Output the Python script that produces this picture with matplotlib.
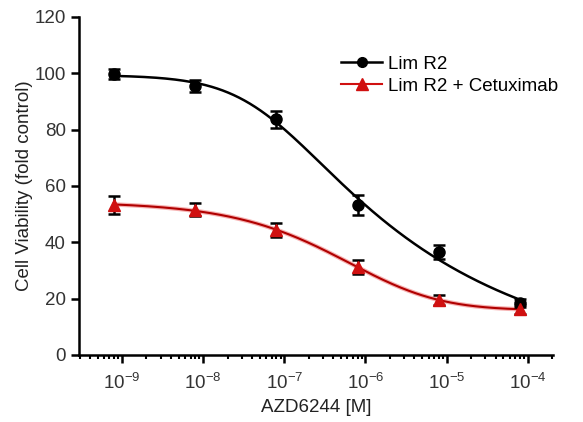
import numpy as np
import matplotlib
matplotlib.use('Agg')
import matplotlib.pyplot as plt
from matplotlib.ticker import LogLocator, FixedLocator

plt.rcParams['font.family'] = ['Liberation Sans', 'DejaVu Sans']
plt.rcParams['mathtext.fontset'] = 'custom'
plt.rcParams['mathtext.rm'] = 'Liberation Sans'
plt.rcParams['mathtext.it'] = 'Liberation Sans'

# AZD6244 concentrations [M]
conc = [8e-10, 8e-9, 8e-8, 8e-7, 8e-6, 8e-5]

# Lim R2
lim_mean = [99.8, 95.5, 83.6, 53.2, 36.6, 18.4]
lim_err = [1.8, 2.2, 3.0, 3.5, 2.5, 1.5]

# Lim R2 + Cetuximab
cet_mean = [53.2, 51.5, 44.2, 31.2, 19.5, 16.2]
cet_err = [3.3, 2.3, 2.5, 2.5, 1.8, 1.6]

series_names = ['Lim R2', 'Lim R2 + Cetuximab']


def fit_5pl(x, y):
    # grid search over centre / slope / asymmetry, top & bottom by least squares
    lx = np.log10(x)
    y = np.asarray(y, dtype=float)
    C, H, S = np.meshgrid(np.linspace(-9, -3, 121),
                          np.linspace(0.15, 2.0, 75),
                          np.linspace(0.2, 4.0, 39), indexing='ij')
    C, H, S = C.ravel(), H.ravel(), S.ravel()
    u = 1.0 / (1.0 + 10 ** ((lx[None, :] - C[:, None]) * H[:, None])) ** S[:, None]
    um = u.mean(axis=1, keepdims=True)
    ym = y.mean()
    var = ((u - um) ** 2).sum(axis=1)
    D = ((u - um) * (y - ym)).sum(axis=1) / np.maximum(var, 1e-12)
    B = ym - D * um[:, 0]
    res = ((B[:, None] + D[:, None] * u - y) ** 2).sum(axis=1)
    i = np.argmin(res)
    return B[i], D[i], C[i], H[i], S[i]


def curve(p, xx):
    bot, span, c, h, s = p
    return bot + span / (1 + 10 ** ((np.log10(xx) - c) * h)) ** s


fig = plt.figure(figsize=(5.83, 4.22), dpi=100)
ax = fig.add_axes([0.1355, 0.159, 0.813, 0.801])

xx = np.logspace(np.log10(conc[0]), np.log10(conc[-1]), 300)

p1 = fit_5pl(conc, lim_mean)
p2 = fit_5pl(conc, cet_mean)

ax.plot(xx, curve(p1, xx), color='black', lw=1.8, zorder=2)
ax.plot(xx, curve(p2, xx), color='#f08080', lw=3.2, alpha=0.6, zorder=2)
ax.plot(xx, curve(p2, xx), color='#b00000', lw=1.5, zorder=2)

ax.errorbar(conc, lim_mean, yerr=lim_err, fmt='o', color='black', ms=8,
            capsize=4, elinewidth=1.8, capthick=1.8, zorder=4)
ax.errorbar(conc, cet_mean, yerr=cet_err, fmt='none', ecolor='black',
            capsize=4, elinewidth=1.8, capthick=1.8, zorder=3)
ax.plot(conc, cet_mean, '^', color='#d01010', ms=9, zorder=5)

# legend handles
ax.plot([], [], '-o', color='black', ms=7, lw=1.8, label=series_names[0])
ax.plot([], [], '-^', color='#d01010', ms=8, lw=1.5, label=series_names[1])
handles, labels = ax.get_legend_handles_labels()
ax.legend(handles[-2:], labels[-2:], loc='upper left',
          bbox_to_anchor=(0.517, 0.935), frameon=False, fontsize=13.5,
          handlelength=2.2, handletextpad=0.3, labelspacing=0.25)

ax.set_xscale('log')
ax.set_xlim(10 ** -9.53, 10 ** -3.69)
ax.set_ylim(0, 120)
ax.set_yticks([0, 20, 40, 60, 80, 100, 120])
ax.xaxis.set_major_locator(FixedLocator([1e-9, 1e-8, 1e-7, 1e-6, 1e-5, 1e-4]))
ax.xaxis.set_minor_locator(LogLocator(base=10, subs=np.arange(2, 10), numticks=20))
ax.set_xticklabels(['10$^{-9}$', '10$^{-8}$', '10$^{-7}$', '10$^{-6}$',
                    '10$^{-5}$', '10$^{-4}$'])

for s in ['top', 'right']:
    ax.spines[s].set_visible(False)
for s in ['left', 'bottom']:
    ax.spines[s].set_linewidth(1.8)

ax.tick_params(axis='both', which='major', length=6, width=1.8,
               labelsize=13.5, colors='black', labelcolor='#333333')
ax.tick_params(axis='x', which='minor', length=3, width=1.5)
ax.tick_params(axis='x', which='major', pad=7)

ax.set_xlabel('AZD6244 [M]', fontsize=13.5, color='#222222', labelpad=4)
ax.set_ylabel('Cell Viability (fold control)', fontsize=13.5, color='#222222', labelpad=1)

fig.savefig('out.png', dpi=100)
